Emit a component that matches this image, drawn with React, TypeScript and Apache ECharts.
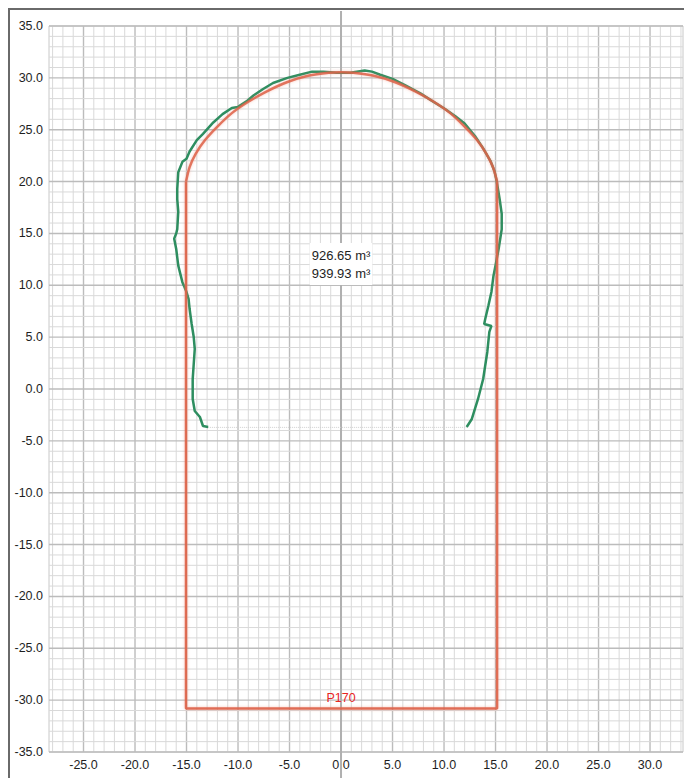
import React, { useEffect, useRef } from "react";
import * as echarts from "echarts";

// ---- axis extents and tick labels ----
const X_MIN = -28.35;
const X_MAX = 33.2;
const Y_MIN = -35;
const Y_MAX = 35;
const xTickValues = [-25, -20, -15, -10, -5, 0, 5, 10, 15, 20, 25, 30];
const yInterval = 5;

// ---- design profile (red) ----
const designSides: [number, number][] = [
  [-15.05, 20.0],
  [-15.05, -30.8],
  [15.15, -30.8],
  [15.15, 20.0],
];
const designArc: [number, number][] = [
  [-15.05, 20.0], [-14.7, 21.4], [-14.1, 22.7], [-13.2, 24.0], [-12.0, 25.3],
  [-10.6, 26.6], [-9.0, 27.7], [-7.2, 28.7], [-5.2, 29.6], [-3.2, 30.2],
  [-1.2, 30.5], [0, 30.55], [1.2, 30.5], [3.2, 30.2], [5.2, 29.6],
  [7.2, 28.7], [9.0, 27.7], [10.6, 26.6], [12.0, 25.3], [13.2, 24.0],
  [14.1, 22.7], [14.75, 21.4], [15.15, 20.0],
];

// ---- scanned profile (green) ----
const scanProfile: [number, number][] = [
  [-12.9, -3.66], [-13.4, -3.57], [-13.7, -2.7], [-14.2, -2.12], [-14.4, -0.96],
  [-14.4, 0.96], [-14.3, 2.41], [-14.2, 3.86], [-14.3, 5.01], [-14.5, 6.27],
  [-14.7, 7.71], [-14.8, 8.68], [-15.0, 9.35], [-15.2, 9.84], [-15.4, 10.3],
  [-15.6, 11.1], [-15.8, 11.9], [-15.9, 12.7], [-16.0, 13.5], [-16.2, 14.5],
  [-16.0, 15.0], [-15.9, 15.4], [-15.8, 17.1], [-15.9, 18.3], [-15.9, 19.3],
  [-15.8, 20.9], [-15.4, 21.9], [-15.0, 22.2], [-14.7, 22.9], [-14.0, 24.0],
  [-13.4, 24.6], [-12.4, 25.7], [-11.5, 26.5], [-10.6, 27.1], [-10.0, 27.2],
  [-9.1, 27.8], [-8.5, 28.3], [-7.6, 28.9], [-6.6, 29.5], [-5.2, 30.0],
  [-4.0, 30.3], [-2.8, 30.6], [-1.7, 30.6], [-0.4, 30.5], [0.9, 30.5],
  [2.3, 30.7], [3.0, 30.6], [3.8, 30.3], [5.0, 29.9], [6.2, 29.3],
  [7.7, 28.5], [8.8, 27.8], [10.1, 27.0], [11.1, 26.3], [12.0, 25.6],
  [13.0, 24.4], [13.8, 23.2], [14.5, 22.0], [14.9, 21.0], [15.1, 20.1],
  [15.4, 18.3], [15.6, 16.9], [15.6, 15.4], [15.3, 13.5], [15.0, 11.9],
  [14.8, 10.9], [14.6, 9.35], [14.3, 8.0], [14.0, 6.75], [13.9, 6.27],
  [14.6, 6.08], [14.4, 5.5], [14.2, 3.57], [13.8, 0.96], [13.3, -0.96],
  [12.7, -2.89], [12.2, -3.66],
];
const scanClosure: [number, number][] = [
  [-12.9, -3.7],
  [12.2, -3.7],
];

// ---- annotations ----
const volumeTexts = ["926.65 m³", "939.93 m³"];
const volumeAnchor: [number, number] = [0, 12.05];
const profileName = "P170";
const profileNameAnchor: [number, number] = [0, -30.8];

const FONT = "'Liberation Sans', Arial, Helvetica, sans-serif";

function buildGridLines() {
  const items: number[][] = [];
  for (let v = Math.ceil(X_MIN); v <= Math.floor(X_MAX); v++) {
    items.push([0, v, v % 5 === 0 ? 1 : 0]);
  }
  for (let v = Y_MIN; v <= Y_MAX; v++) {
    items.push([1, v, v % 5 === 0 ? 1 : 0]);
  }
  return items;
}

export default function App() {
  const ref = useRef<HTMLDivElement>(null);

  useEffect(() => {
    if (!ref.current) return;
    const chart = echarts.init(ref.current, undefined, { renderer: "svg" });

    const option: any = {
      animation: false,
      textStyle: { fontFamily: FONT },
      grid: {
        left: 39,
        right: 1,
        top: 16,
        bottom: 26,
        show: true,
        borderColor: "#c8c8c8",
        borderWidth: 1,
        backgroundColor: "#ffffff",
      },
      xAxis: {
        type: "value",
        min: X_MIN,
        max: X_MAX,
        axisLine: { show: false },
        axisTick: { show: false },
        splitLine: { show: false },
        axisLabel: {
          customValues: xTickValues,
          formatter: (v: number) => v.toFixed(1),
          margin: 6,
          fontSize: 12.5,
          color: "#1e1e1e",
          fontFamily: FONT,
        },
      },
      yAxis: {
        type: "value",
        min: Y_MIN,
        max: Y_MAX,
        interval: yInterval,
        axisLine: { show: false },
        axisTick: { show: false },
        splitLine: { show: false },
        axisLabel: {
          formatter: (v: number) => v.toFixed(1),
          margin: 6,
          fontSize: 12.5,
          color: "#1e1e1e",
          fontFamily: FONT,
        },
      },
      series: [
        {
          type: "custom",
          silent: true,
          z: 1,
          data: buildGridLines(),
          renderItem: (_p: any, api: any) => {
            const dir = api.value(0);
            const v = api.value(1);
            const major = api.value(2) === 1;
            let a, b;
            if (dir === 0) {
              a = api.coord([v, Y_MAX]);
              b = api.coord([v, Y_MIN]);
            } else {
              a = api.coord([X_MIN, v]);
              b = api.coord([X_MAX, v]);
            }
            return {
              type: "line",
              shape: { x1: a[0], y1: a[1], x2: b[0], y2: b[1] },
              style: { stroke: major ? "#bcbcbc" : "#d9d9d9", lineWidth: major ? 1.4 : 1 },
            };
          },
        },
        {
          type: "custom",
          silent: true,
          clip: false,
          z: 2,
          data: [[0]],
          renderItem: (_p: any, api: any) => {
            const a = api.coord([0, 36.45]);
            const b = api.coord([0, -37.6]);
            return {
              type: "line",
              shape: { x1: a[0], y1: a[1], x2: b[0], y2: b[1] },
              style: { stroke: "#b0b0b0", lineWidth: 2 },
            };
          },
        },
        {
          type: "line",
          silent: true,
          z: 3,
          data: scanClosure,
          symbol: "none",
          lineStyle: { color: "#cfcfcf", width: 1, type: "dotted" },
        },
        {
          type: "line",
          silent: true,
          z: 4,
          data: scanProfile,
          symbol: "none",
          lineStyle: { color: "#2e8e60", width: 2.5 },
        },
        {
          type: "line",
          silent: true,
          z: 5,
          data: designSides,
          symbol: "none",
          lineStyle: {
            color: "#de6247",
            width: 2.5,
            opacity: 0.9,
            shadowBlur: 3,
            shadowColor: "rgba(240,130,110,0.5)",
          },
        },
        {
          type: "line",
          silent: true,
          z: 5,
          data: designArc,
          symbol: "none",
          smooth: 0.25,
          lineStyle: {
            color: "#de6247",
            width: 2.5,
            opacity: 0.85,
            shadowBlur: 3,
            shadowColor: "rgba(240,130,110,0.5)",
          },
        },
      ],
    };

    chart.setOption(option);

    const pv = chart.convertToPixel({ xAxisIndex: 0, yAxisIndex: 0 }, volumeAnchor) as number[];
    const pn = chart.convertToPixel({ xAxisIndex: 0, yAxisIndex: 0 }, profileNameAnchor) as number[];
    chart.setOption({
      graphic: [
        {
          type: "text",
          x: pv[0],
          y: pv[1],
          z: 10,
          silent: true,
          style: {
            text: volumeTexts.join("\n"),
            align: "center",
            verticalAlign: "middle",
            fontSize: 13,
            lineHeight: 18,
            fontFamily: FONT,
            fill: "#1e1e1e",
            backgroundColor: "#ffffff",
            padding: [3, 2, 3, 2],
          },
        },
        {
          type: "text",
          x: pn[0],
          y: pn[1] - 4,
          z: 10,
          silent: true,
          style: {
            text: profileName,
            align: "center",
            verticalAlign: "bottom",
            fontSize: 12.5,
            fontFamily: FONT,
            fill: "#e8261f",
          },
        },
      ],
    });

    return () => {
      chart.dispose();
    };
  }, []);

  return (
    <div
      style={{
        position: "fixed",
        left: 8,
        top: 8,
        width: 676,
        height: 770,
        boxSizing: "border-box",
        borderTop: "2px solid #6a6a6a",
        borderLeft: "2px solid #6a6a6a",
        background: "#fff",
      }}
    >
      <div ref={ref} style={{ width: 674, height: 768 }} />
    </div>
  );
}
